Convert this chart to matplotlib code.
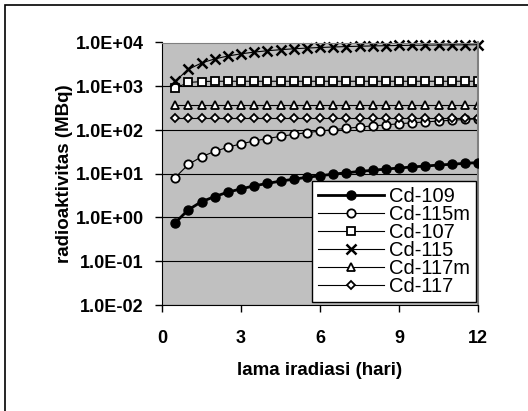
import matplotlib.pyplot as plt
from matplotlib.patches import Rectangle

plt.rcParams['font.family'] = ['Liberation Sans', 'DejaVu Sans']

# lama iradiasi (hari)
hari = [0.5, 1, 1.5, 2, 2.5, 3, 3.5, 4, 4.5, 5, 5.5, 6,
        6.5, 7, 7.5, 8, 8.5, 9, 9.5, 10, 10.5, 11, 11.5, 12]

# radioaktivitas (MBq)
cd109 = [0.76, 1.5, 2.3, 3.0, 3.8, 4.5, 5.3, 6.0, 6.8, 7.5, 8.3, 9.0,
         9.8, 10.5, 11.3, 12.0, 12.8, 13.5, 14.3, 15.0, 15.8, 16.5, 17.3, 18.0]
cd115m = [8.2, 16.3, 24.4, 32.4, 40.4, 48.3, 56.1, 63.9, 71.6, 79.3, 86.9, 94.5,
          102, 109, 117, 124, 131, 139, 146, 153, 160, 167, 174, 180]
cd107 = [900, 1220, 1280, 1300, 1300, 1300, 1300, 1300, 1300, 1300, 1300, 1300,
         1300, 1300, 1300, 1300, 1300, 1300, 1300, 1300, 1300, 1300, 1300, 1300]
cd115 = [1310, 2430, 3400, 4210, 4910, 5510, 6030, 6480, 6850, 7180, 7450, 7690,
         7890, 8070, 8220, 8350, 8450, 8550, 8630, 8690, 8750, 8800, 8840, 8880]
cd117m = [370] * 24
cd117 = [185] * 24

fig = plt.figure(figsize=(5.28, 4.11), dpi=100)
# outer chart border (only left/top visible)
fig.patches.append(Rectangle((5/528, -0.1), 1.2, 1 - 5/411 + 0.1, transform=fig.transFigure,
                             fill=False, edgecolor='black', lw=1.2))

ax = fig.add_axes([162/528, 1 - 305/411, 316/528, 262.5/411])
ax.set_facecolor('#c0c0c0')

ax.plot(hari, cd109, '-o', color='black', lw=2, ms=6.5, mfc='black', label='Cd-109', zorder=5)
ax.plot(hari, cd115m, '-o', color='black', lw=0.8, ms=6, mfc='white', mew=1.3, label='Cd-115m')
ax.plot(hari, cd107, '-s', color='black', lw=0.8, ms=6, mfc='white', mew=1.3, label='Cd-107')
ax.plot(hari, cd115, '-x', color='black', lw=0.8, ms=7, mew=1.8, label='Cd-115', clip_on=False)
ax.plot(hari, cd117m, '-^', color='black', lw=0.8, ms=6, mfc='white', mew=1.3, label='Cd-117m')
ax.plot(hari, cd117, '-D', color='black', lw=0.8, ms=4.5, mfc='white', mew=1.3, label='Cd-117')

ax.set_yscale('log')
ax.set_ylim(1e-2, 1e4)
ax.set_xlim(0, 12)
ax.set_xticks([0, 3, 6, 9, 12])
yt = [1e-2, 1e-1, 1e0, 1e1, 1e2, 1e3, 1e4]
ax.set_yticks(yt)
ax.set_yticklabels(['1.0E-02', '1.0E-01', '1.0E+00', '1.0E+01', '1.0E+02', '1.0E+03', '1.0E+04'])
ax.minorticks_off()
ax.grid(axis='y', color='black', lw=0.8)
ax.set_axisbelow(True)

for lab in ax.get_xticklabels() + ax.get_yticklabels():
    lab.set_fontweight('bold')
ax.tick_params(labelsize=13, direction='out', length=5, width=1, pad=8)
ax.tick_params(axis='x', pad=13)

ax.spines['left'].set_color('black')
ax.spines['bottom'].set_color('black')
ax.spines['top'].set_color('#808080')
ax.spines['right'].set_color('#808080')
ax.spines['right'].set_linewidth(1.5)

ax.set_xlabel('lama iradiasi (hari)', fontsize=13.5, fontweight='bold', labelpad=11)
ax.set_ylabel('radioaktivitas (MBq)', fontsize=13.5, fontweight='bold', labelpad=2)

leg = ax.legend(loc='lower right', bbox_to_anchor=(0.995, 0.012), fontsize=14.5, frameon=True,
                fancybox=False, edgecolor='black', framealpha=1, handlelength=3.3,
                handletextpad=0.25, labelspacing=-0.05, borderpad=0.3, borderaxespad=0.0)
leg.get_frame().set_linewidth(1)

fig.savefig('out.png', dpi=100)
